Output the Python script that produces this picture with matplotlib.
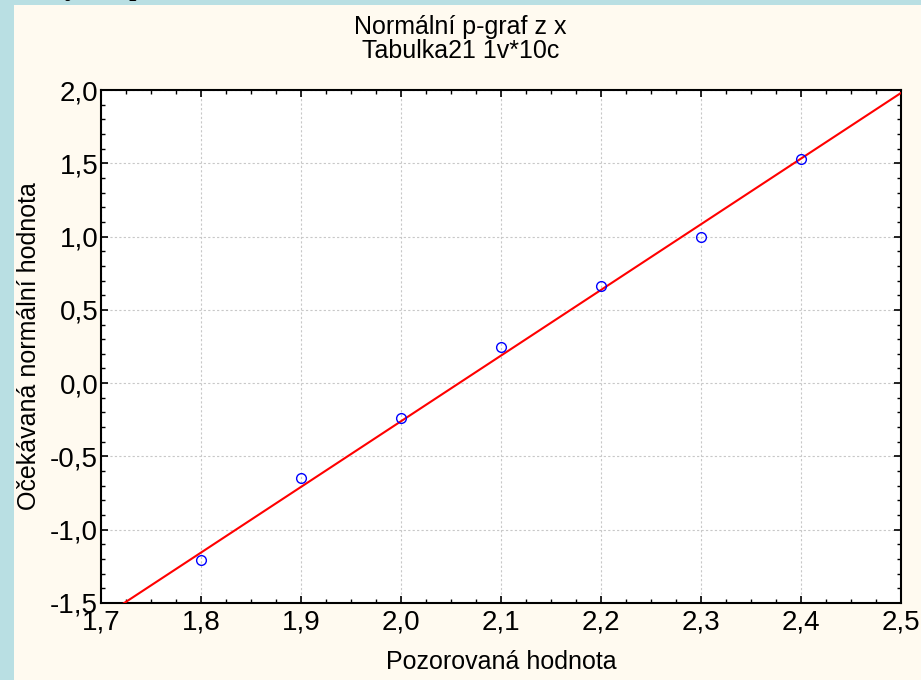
import numpy as np
import matplotlib.pyplot as plt
from matplotlib.patches import Rectangle
from matplotlib.ticker import MultipleLocator, FuncFormatter

# data
x_obs = [1.8, 1.9, 2.0, 2.1, 2.2, 2.3, 2.4]
y_exp = [-1.21, -0.65, -0.24, 0.25, 0.66, 1.00, 1.53]
line_slope = 4.48
line_icpt = -9.22

title = "Normální p-graf z x\nTabulka21 1v*10c"
xlab = "Pozorovaná hodnota"
ylab = "Očekávaná normální hodnota"

plt.rcParams['font.family'] = ["Liberation Sans", "DejaVu Sans"]

fig = plt.figure(figsize=(9.21, 6.8), dpi=100)
fig.patch.set_facecolor("#b9dfe3")
fig.patches.append(Rectangle((14 / 921, 0), 1, 1 - 5 / 680, transform=fig.transFigure,
                             facecolor="#fffaf0", edgecolor="none", zorder=-5))
# zbytek textu nad obrazkem
fig.text(0.07, 1.02, "y", family="Liberation Serif", fontsize=22, va="center")
fig.text(0.14, 1.02, "p", family="Liberation Serif", fontsize=22, va="center")

ax = fig.add_axes([101 / 921, 1 - 603 / 680, 800 / 921, 513 / 680])
ax.set_facecolor("white")

xx = np.array([1.7, 2.5])
ax.plot(xx, line_icpt + line_slope * xx, color="red", lw=1.5, zorder=3)
ax.plot(x_obs, y_exp, "o", mfc="none", mec="blue", ms=7, mew=1, zorder=4)

ax.set_xlim(1.7, 2.5)
ax.set_ylim(-1.5, 2.0)
ax.xaxis.set_major_locator(MultipleLocator(0.1))
ax.xaxis.set_minor_locator(MultipleLocator(0.025))
ax.yaxis.set_major_locator(MultipleLocator(0.5))
ax.yaxis.set_minor_locator(MultipleLocator(0.1))
fmt = FuncFormatter(lambda v, p: f"{v:.1f}".replace(".", ","))
ax.xaxis.set_major_formatter(fmt)
ax.yaxis.set_major_formatter(fmt)
ax.tick_params(which="both", direction="in", top=True, right=True, labelsize=20)
ax.tick_params(which="major", length=5, width=1.2, pad=2)
ax.tick_params(axis="x", which="major", pad=5)
ax.tick_params(which="minor", length=3, width=1)
ax.grid(True, which="major", color="#c8c8c8", ls=(0, (2, 2)), lw=0.8)
for s in ax.spines.values():
    s.set_linewidth(1.5)

fig.text(0.5, 1 - 39 / 680, title, ha="center", va="center", fontsize=18, linespacing=1.0)
ax.set_xlabel(xlab, fontsize=18, labelpad=10)
ax.set_ylabel(ylab, fontsize=18)
ax.yaxis.set_label_coords(-0.075, 0.5)

fig.savefig("out.png", dpi=100, facecolor=fig.get_facecolor())
